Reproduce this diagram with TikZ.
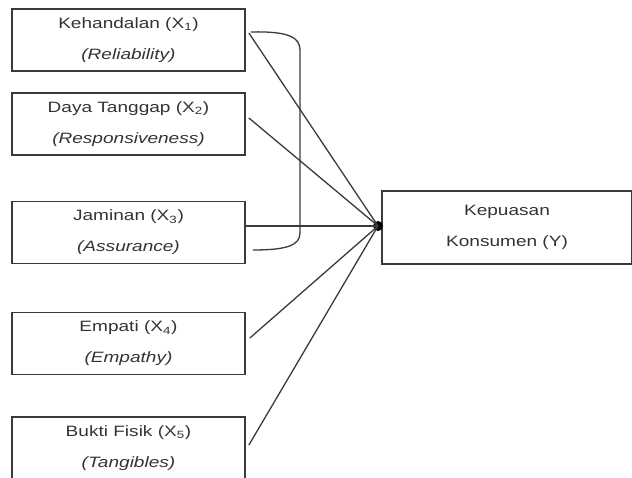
\documentclass[tikz,border=0pt]{standalone}
\usepackage{fontspec}
\setmainfont{Liberation Sans}
\usepackage{tikz}
\usetikzlibrary{calc}
\definecolor{ink}{HTML}{333333}
\definecolor{linecol}{HTML}{3A3A3A}
\newcommand{\wide}[1]{\scalebox{1.27}[1]{#1}}
\tikzset{
  box/.style={draw=linecol, line width=1.8pt, minimum width=233pt, align=center,
    text=ink, font=\fontsize{15}{31}\selectfont, inner sep=0pt},
  varbox/.style={box, minimum height=62pt},
  ybox/.style={box, minimum width=250pt, minimum height=73pt},
  link/.style={draw=linecol, line width=1.3pt},
  hubdot/.style={circle, fill=black, inner sep=0pt, minimum size=10pt}
}
\begin{document}
\begin{tikzpicture}[x=1pt,y=1pt]
  \useasboundingbox (0,0) rectangle (632,478);

  \node[varbox] (x1) at (128.5,438) {\wide{Kehandalan (X\textsubscript{1})}\\\wide{\itshape(Reliability)}};
  \node[varbox] (x2) at (128.5,354) {\wide{Daya Tanggap (X\textsubscript{2})}\\\wide{\itshape(Responsiveness)}};
  \node[varbox] (x3) at (128.5,245.5) {\wide{Jaminan (X\textsubscript{3})}\\\wide{\itshape(Assurance)}};
  \node[varbox] (x4) at (128.5,134.5) {\wide{Empati (X\textsubscript{4})}\\\wide{\itshape(Empathy)}};
  \node[varbox] (x5) at (128.5,30) {\wide{Bukti Fisik (X\textsubscript{5})}\\\wide{\itshape(Tangibles)}};
  \node[ybox] (y) at (507,250.5) {\wide{Kepuasan}\\\wide{Konsumen (Y)}};

  \node[hubdot] (hub) at (378,252) {};

  % paths into Y
  \draw[link] ([shift={(3,7)}]x1.east) -- (hub.center);
  \draw[link] ([shift={(3,6)}]x2.east) -- (hub.center);
  \draw[link] ([yshift=6.5pt]x3.east) -- (hub.center);
  \draw[link] ([shift={(4,5.5)}]x4.east) -- (hub.center);
  \draw[link] ([shift={(3,3)}]x5.east) -- (hub.center);

  % correlation bracket X1--X3
  \draw[link] ([shift={(5,8)}]x1.east) .. controls (290,447) and (300,440) .. (300,428)
    -- (300,245) .. controls (300,232) and (285,228) .. ([shift={(7,-17.5)}]x3.east);
\end{tikzpicture}
\end{document}
